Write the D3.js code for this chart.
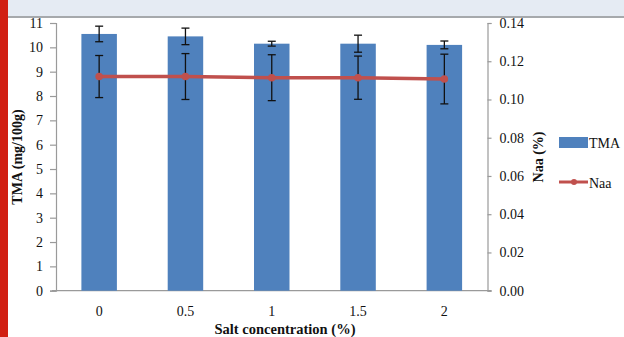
<!DOCTYPE html>
<html><head><meta charset="utf-8">
<script src="https://cdn.jsdelivr.net/npm/d3@7"></script>
<style>body{margin:0;background:#fff}svg{display:block}</style>
</head><body>
<svg id="c" width="624" height="337"></svg>
<script>
const categories = ["0", "0.5", "1", "1.5", "2"];
const tmaValues = [10.55, 10.45, 10.15, 10.15, 10.1];
const tmaErrors = [0.32, 0.34, 0.1, 0.35, 0.16];
const naaValues = [0.112, 0.112, 0.1114, 0.1114, 0.1107];
const naaErrors = [0.011, 0.012, 0.012, 0.0113, 0.013];
const leftTicks = [0,1,2,3,4,5,6,7,8,9,10,11];
const rightTicks = [0,0.02,0.04,0.06,0.08,0.10,0.12,0.14];

const svg = d3.select("#c");
const font = "'Liberation Serif', 'Times New Roman', serif";

// header band and red side bar
svg.append("rect").attr("x",0).attr("y",0).attr("width",624).attr("height",16).attr("fill","#e5ebf3");
svg.append("rect").attr("x",0).attr("y",16).attr("width",624).attr("height",2).attr("fill","#a6a9ac");
svg.append("rect").attr("x",0).attr("y",0).attr("width",8).attr("height",337).attr("fill","#d11f12");

const L = 56, R = 487.5, T = 23, B = 290.7;
const x = d3.scaleBand().domain(categories).range([L, R]);
const yL = d3.scaleLinear().domain([0, 11]).range([B, T]);
const yR = d3.scaleLinear().domain([0, 0.14]).range([B, T]);

// axes
const axL = svg.append("g").attr("transform",`translate(${L},0)`)
  .call(d3.axisLeft(yL).tickValues(leftTicks).tickSize(6).tickPadding(7).tickFormat(d3.format("d")));
const axR = svg.append("g").attr("transform",`translate(${R},0)`)
  .call(d3.axisRight(yR).tickValues(rightTicks).tickSize(4).tickPadding(8).tickFormat(d3.format(".2f")));
const axB = svg.append("g").attr("transform",`translate(0,${B})`)
  .call(d3.axisBottom(x).tickSize(0).tickPadding(15));
[axL, axR, axB].forEach(a => {
  a.selectAll("path").attr("stroke","#9a9a9a").attr("stroke-width",1.2);
  a.selectAll("line").attr("stroke","#9a9a9a").attr("stroke-width",1.2);
  a.selectAll("text").attr("font-family",font).attr("font-size","14px").attr("fill","#111");
});
axB.select("path").attr("d",`M${L-4},0H${R+4}`);

// bars
const bw = 35.5;
svg.append("g").selectAll("rect").data(categories).join("rect")
  .attr("x", d => x(d) + x.bandwidth()/2 - bw/2)
  .attr("y", (d,i) => yL(tmaValues[i]))
  .attr("width", bw)
  .attr("height", (d,i) => B - yL(tmaValues[i]))
  .attr("fill", "#4f81bd");

function errorBars(g, vals, errs, scale) {
  categories.forEach((c,i) => {
    const cx = x(c) + x.bandwidth()/2;
    const y1 = scale(vals[i] + errs[i]), y2 = scale(vals[i] - errs[i]);
    g.append("line").attr("x1",cx).attr("x2",cx).attr("y1",y1).attr("y2",y2);
    g.append("line").attr("x1",cx-4).attr("x2",cx+4).attr("y1",y1).attr("y2",y1);
    g.append("line").attr("x1",cx-4).attr("x2",cx+4).attr("y1",y2).attr("y2",y2);
  });
}
const eb1 = svg.append("g").attr("stroke","#111").attr("stroke-width",1.3);
errorBars(eb1, tmaValues, tmaErrors, yL);

// Naa line
const line = d3.line().x((d,i) => x(categories[i]) + x.bandwidth()/2).y(d => yR(d));
svg.append("path").datum(naaValues).attr("d", line).attr("fill","none")
  .attr("stroke","#c0504d").attr("stroke-width",3.5);
const eb2 = svg.append("g").attr("stroke","#111").attr("stroke-width",1.3);
errorBars(eb2, naaValues, naaErrors, yR);
svg.append("g").selectAll("circle").data(naaValues).join("circle")
  .attr("cx",(d,i) => x(categories[i]) + x.bandwidth()/2).attr("cy", d => yR(d))
  .attr("r",3.8).attr("fill","#c0504d");

// axis titles
svg.append("text").attr("transform","translate(22,157) rotate(-90)")
  .attr("text-anchor","middle").attr("font-family",font).attr("font-weight","bold")
  .attr("font-size","14px").attr("fill","#111").text("TMA  (mg/100g)");
svg.append("text").attr("transform","translate(543,157) rotate(-90)")
  .attr("text-anchor","middle").attr("font-family",font).attr("font-weight","bold")
  .attr("font-size","14px").attr("fill","#111").text("Naa  (%)");
svg.append("text").attr("x",285).attr("y",334).attr("text-anchor","middle")
  .attr("font-family",font).attr("font-weight","bold").attr("font-size","14.5px")
  .attr("fill","#111").text("Salt concentration  (%)");

// legend
const lg = svg.append("g");
lg.append("rect").attr("x",559).attr("y",137).attr("width",29).attr("height",11).attr("fill","#4f81bd");
lg.append("text").attr("x",589).attr("y",148).attr("font-family",font).attr("font-size","14px").attr("fill","#111").text("TMA");
lg.append("line").attr("x1",559).attr("x2",588).attr("y1",182).attr("y2",182).attr("stroke","#c0504d").attr("stroke-width",3);
lg.append("circle").attr("cx",574).attr("cy",182).attr("r",3).attr("fill","#c0504d");
lg.append("text").attr("x",589).attr("y",187.5).attr("font-family",font).attr("font-size","14px").attr("fill","#111").text("Naa");
</script>
</body></html>
